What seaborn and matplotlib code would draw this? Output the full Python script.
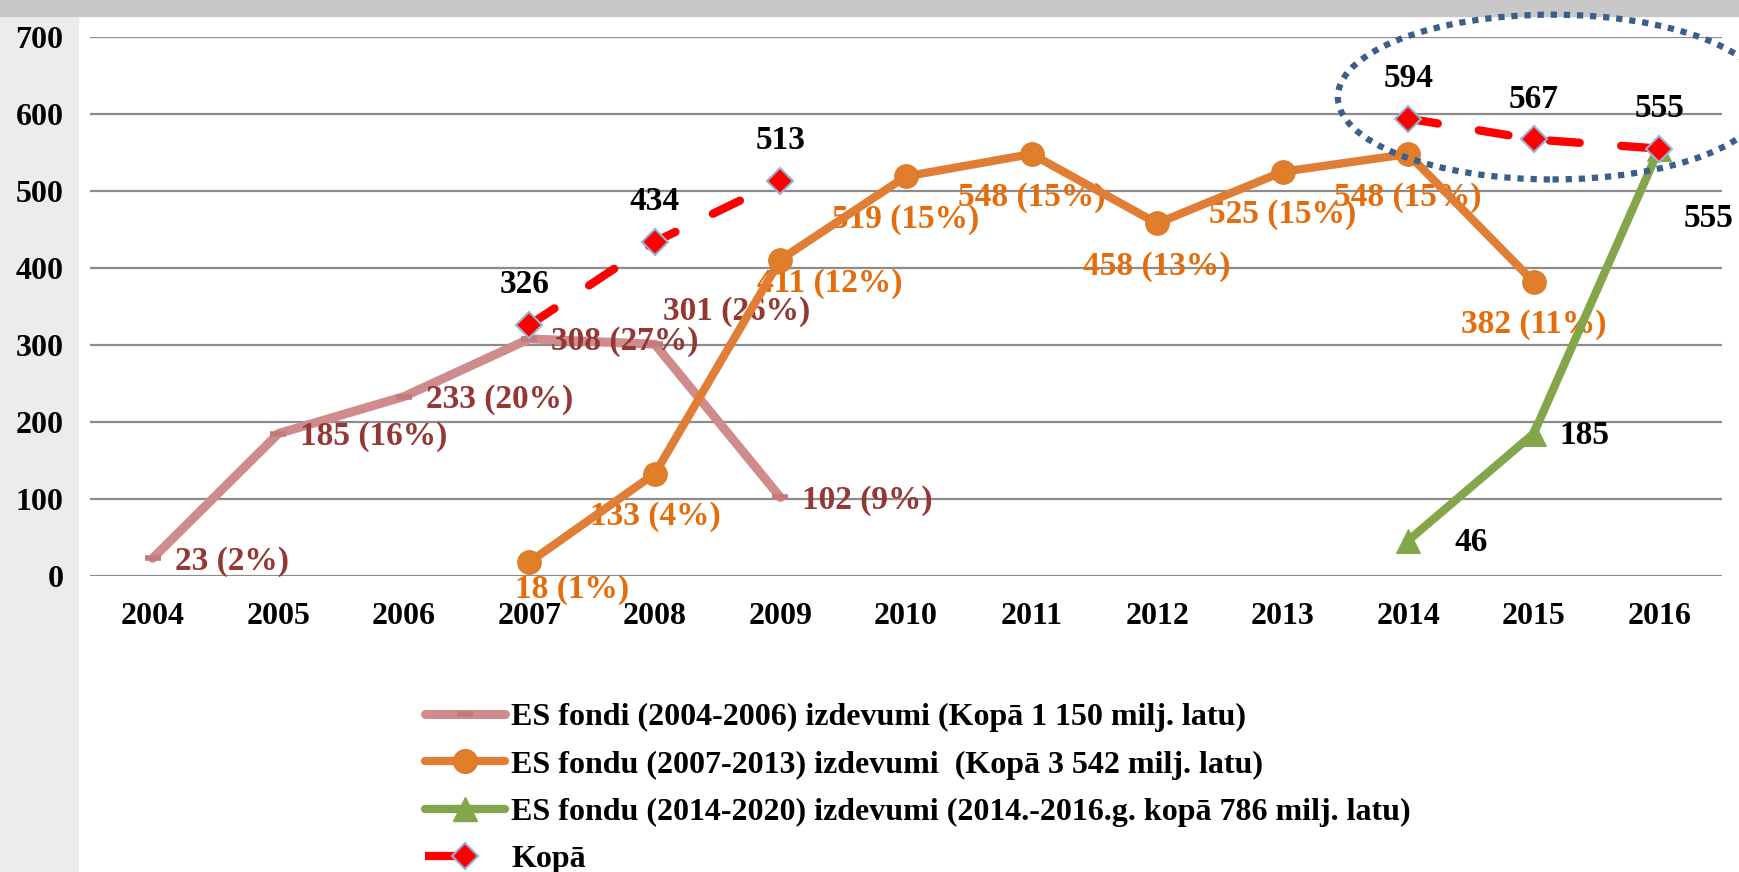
import pandas as pd
import seaborn as sns
import matplotlib.pyplot as plt
from matplotlib.patches import Ellipse, Rectangle
from matplotlib.lines import Line2D

# chart data (milj. latu)
years = ["2004", "2005", "2006", "2007", "2008", "2009", "2010",
         "2011", "2012", "2013", "2014", "2015", "2016"]
fondi_0406 = [23, 185, 233, 308, 301, 102, None, None, None, None, None, None, None]
pct_0406 = ["2%", "16%", "20%", "27%", "26%", "9%"]
fondi_0713 = [None, None, None, 18, 133, 411, 519, 548, 458, 525, 548, 382, None]
pct_0713 = ["1%", "4%", "12%", "15%", "15%", "13%", "15%", "15%", "11%"]
fondi_1420 = [None, None, None, None, None, None, None, None, None, None, 46, 185, 555]
kopa = [None, None, None, 326, 434, 513, None, None, None, None, 594, 567, 555]

legend_labels = [
    "ES fondi (2004-2006) izdevumi (Kopā 1 150 milj. latu)",
    "ES fondu (2007-2013) izdevumi  (Kopā 3 542 milj. latu)",
    "ES fondu (2014-2020) izdevumi (2014.-2016.g. kopā 786 milj. latu)",
    "Kopā",
]

sns.set_theme(style="white")
plt.rcParams['font.family'] = ['Liberation Serif', 'DejaVu Serif']
plt.rcParams['font.weight'] = 'bold'
plt.rcParams['text.color'] = 'black'

pink = "#d08c8c"
orange = "#e07e35"
green = "#84a64a"
red = "#ff0000"

fig = plt.figure(figsize=(17.39, 8.72), dpi=100)
fig.patches.append(Rectangle((0, 0), 78 / 1739, 1, transform=fig.transFigure,
                             color="#ececec", zorder=-10))
fig.patches.append(Rectangle((0, 1 - 16 / 872), 1, 16 / 872, transform=fig.transFigure,
                             color="#c8c8c8", zorder=-9))

ax = fig.add_axes([90 / 1739, 1 - 576 / 872, (1722 - 90) / 1739, (576 - 37) / 872])
ax.set_facecolor("none")


def frame(values):
    df = pd.DataFrame({"x": range(len(years)), "y": values})
    return df.dropna()


# series lines
d1 = frame(fondi_0406)
sns.lineplot(data=d1, x="x", y="y", ax=ax, color=pink, lw=6.5, marker="_",
             markersize=12, mew=4, mec="#c27b7b", zorder=3)
d2 = frame(fondi_0713)
sns.lineplot(data=d2, x="x", y="y", ax=ax, color=orange, lw=6, marker="o",
             markersize=17, mec="#d8782a", mfc="#e07e2a", zorder=4)
d3 = frame(fondi_1420)
sns.lineplot(data=d3, x="x", y="y", ax=ax, color=green, lw=6, marker="^",
             markersize=17, mec=green, zorder=4)
d4 = frame(kopa)
for part in (d4[d4.x < 7], d4[d4.x > 7]):
    sns.lineplot(data=part, x="x", y="y", ax=ax, color=red, lw=6,
                 dashes=(3.6, 5), dash_capstyle="round", marker="D", markersize=13,
                 mfc=red, mec="#95b3d7", mew=1.5, zorder=5)

# data labels
fs = 24
d1_lab = [f"{v} ({p})" for v, p in zip(d1.y.astype(int), pct_0406)]
for (x, y), t in zip(d1[["x", "y"]].values, d1_lab):
    if t.startswith("301"):
        ax.annotate(t, (x, y), xytext=(82, 33), textcoords="offset pixels",
                    ha="center", va="center", color="#953735", fontsize=fs)
    else:
        ax.annotate(t, (x, y), xytext=(22, -3), textcoords="offset pixels",
                    ha="left", va="center", color="#953735", fontsize=fs)

d2_lab = [f"{v} ({p})" for v, p in zip(d2.y.astype(int), pct_0713)]
for (x, y), t in zip(d2[["x", "y"]].values, d2_lab):
    off = (0, -43)
    if t.startswith("18 "):
        off = (43, -27)
    elif t.startswith("411"):
        off = (49, -24)
    ax.annotate(t, (x, y), xytext=off, textcoords="offset pixels",
                ha="center", va="center", color="#e46c0a", fontsize=fs)

for (x, y), off, ha in zip(d3[["x", "y"]].values, [(46, -2), (26, -2), (74, -70)],
                           ["left", "left", "right"]):
    ax.annotate(f"{int(y)}", (x, y), xytext=off, textcoords="offset pixels",
                ha=ha, va="center", color="black", fontsize=fs)

for x, y in d4[["x", "y"]].values:
    dx = -5 if x == 3 else 0
    ax.annotate(f"{int(y)}", (x, y), xytext=(dx, 40), textcoords="offset pixels",
                ha="center", va="center", color="black", fontsize=fs)

# highlight ellipse
ax.add_patch(Ellipse((11.15, 622), 3.42, 214, fill=False, ec="#3b5e8c", lw=4.5,
                     ls=(0, (1, 1.1)), clip_on=False, zorder=6))

ax.set_xlim(-0.5, 12.5)
ax.set_ylim(0, 700)
ax.set_yticks(range(0, 701, 100))
ax.set_xticks(range(len(years)))
ax.set_xticklabels(years)
ax.set_xlabel("")
ax.set_ylabel("")
ax.tick_params(axis="both", length=0, labelsize=23, labelcolor="black")
ax.tick_params(axis="y", pad=19)
ax.tick_params(axis="x", pad=19)
ax.grid(axis="y", color="#8c8c8c", lw=1.6)
ax.set_axisbelow(True)
sns.despine(ax=ax, left=True, bottom=True)
if ax.get_legend():
    ax.get_legend().remove()

handles = [
    Line2D([], [], color=pink, lw=6.5, marker="_", markersize=12, mew=4, mec="#c27b7b"),
    Line2D([], [], color=orange, lw=6, marker="o", markersize=17, mec="#d8782a", mfc="#e07e2a"),
    Line2D([], [], color=green, lw=6, marker="^", markersize=17, mec=green),
    Line2D([], [], color=red, lw=6, dashes=(4.8, 20), marker="D", markersize=13,
           mfc=red, mec="#95b3d7", mew=1.5),
]
fig.legend(handles, legend_labels, loc="upper left", bbox_to_anchor=(425 / 1739, 1 - 703 / 872),
           frameon=False, fontsize=23, handlelength=2.5, handletextpad=0.2,
           labelspacing=0.56, borderpad=0, borderaxespad=0)

fig.savefig("out.png", dpi=100)
